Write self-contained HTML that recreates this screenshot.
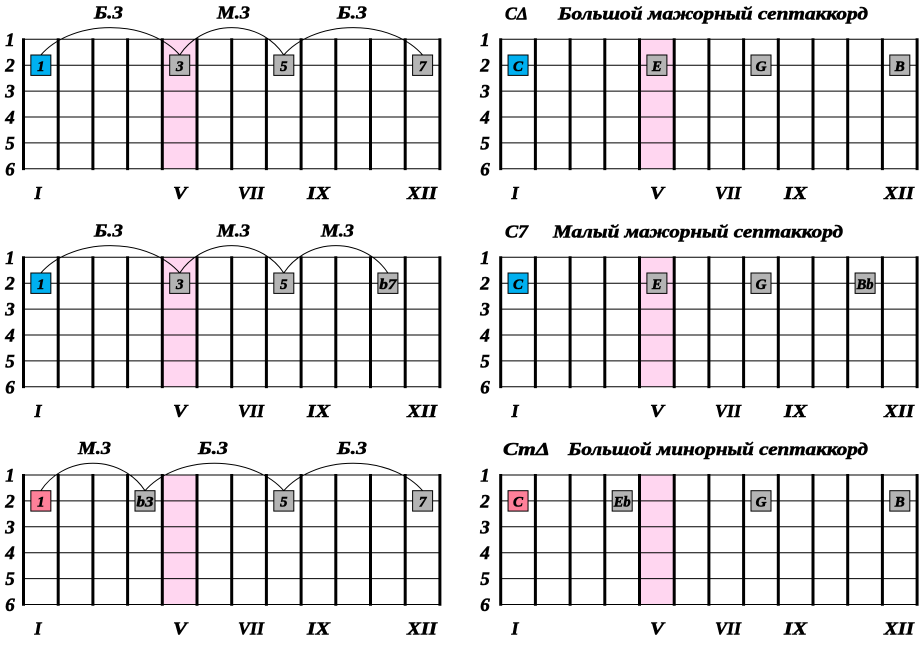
<!DOCTYPE html>
<html>
<head>
<meta charset="utf-8">
<style>
  html,body{margin:0;padding:0;background:#fff;}
  svg{display:block;}
  text{font-family:"Liberation Serif","Times New Roman","DejaVu Serif",serif;font-weight:bold;font-style:italic;fill:#000;stroke:#000;stroke-width:0.55px;}
  .rl{font-size:19px;text-anchor:middle;}
  .rn{font-size:18px;text-anchor:middle;}
  .al{font-size:18px;text-anchor:middle;}
  .tt{font-size:18px;}
  .bt{font-size:15px;text-anchor:middle;stroke-width:0.35px;}
  .arc{fill:none;stroke:#000;stroke-width:1;}
  .bx{stroke:#000;stroke-width:1;}
  .bl{fill:#00B0F0;}
  .gr{fill:#B4B4B4;}
  .pk{fill:#FF8099;}
</style>
</head>
<body>
<svg width="919" height="647" viewBox="0 0 919 647" xmlns="http://www.w3.org/2000/svg">
  <defs>
    <g id="grid">
      <rect x="162.3" y="0" width="34.7" height="129.5" fill="#FFD6F0"/>
      <g stroke="#000" stroke-width="1">
        <line x1="23.5" y1="0" x2="439.9" y2="0"/>
        <line x1="23.5" y1="25.9" x2="439.9" y2="25.9"/>
        <line x1="23.5" y1="51.8" x2="439.9" y2="51.8"/>
        <line x1="23.5" y1="77.7" x2="439.9" y2="77.7"/>
        <line x1="23.5" y1="103.6" x2="439.9" y2="103.6"/>
        <line x1="23.5" y1="129.5" x2="439.9" y2="129.5"/>
      </g>
      <g stroke="#000" stroke-width="3">
        <line x1="23.5" y1="-1" x2="23.5" y2="130.8"/>
        <line x1="58.2" y1="-1" x2="58.2" y2="130.8"/>
        <line x1="92.9" y1="-1" x2="92.9" y2="130.8"/>
        <line x1="127.6" y1="-1" x2="127.6" y2="130.8"/>
        <line x1="162.3" y1="-1" x2="162.3" y2="130.8"/>
        <line x1="197.0" y1="-1" x2="197.0" y2="130.8"/>
        <line x1="231.7" y1="-1" x2="231.7" y2="130.8"/>
        <line x1="266.4" y1="-1" x2="266.4" y2="130.8"/>
        <line x1="301.1" y1="-1" x2="301.1" y2="130.8"/>
        <line x1="335.8" y1="-1" x2="335.8" y2="130.8"/>
        <line x1="370.5" y1="-1" x2="370.5" y2="130.8"/>
        <line x1="405.2" y1="-1" x2="405.2" y2="130.8"/>
        <line x1="439.9" y1="-1" x2="439.9" y2="130.8"/>
      </g>
    </g>
  </defs>

  <!-- Grids -->
  <use href="#grid" x="0" y="39.3"/>
  <use href="#grid" x="477.2" y="39.3"/>
  <use href="#grid" x="0" y="257.3"/>
  <use href="#grid" x="477.2" y="257.3"/>
  <use href="#grid" x="0" y="475"/>
  <use href="#grid" x="477.2" y="475"/>

  <!-- Row labels -->
  <g class="rl">
    <text x="10" y="45.8">1</text><text x="10" y="71.7">2</text><text x="10" y="97.6">3</text>
    <text x="10" y="123.5">4</text><text x="10" y="149.4">5</text><text x="10" y="175.3">6</text>
    <text x="485" y="45.8">1</text><text x="485" y="71.7">2</text><text x="485" y="97.6">3</text>
    <text x="485" y="123.5">4</text><text x="485" y="149.4">5</text><text x="485" y="175.3">6</text>

    <text x="10" y="263.8">1</text><text x="10" y="289.7">2</text><text x="10" y="315.6">3</text>
    <text x="10" y="341.5">4</text><text x="10" y="367.4">5</text><text x="10" y="393.3">6</text>
    <text x="485" y="263.8">1</text><text x="485" y="289.7">2</text><text x="485" y="315.6">3</text>
    <text x="485" y="341.5">4</text><text x="485" y="367.4">5</text><text x="485" y="393.3">6</text>

    <text x="10" y="481.5">1</text><text x="10" y="507.4">2</text><text x="10" y="533.3">3</text>
    <text x="10" y="559.2">4</text><text x="10" y="585.1">5</text><text x="10" y="611">6</text>
    <text x="485" y="481.5">1</text><text x="485" y="507.4">2</text><text x="485" y="533.3">3</text>
    <text x="485" y="559.2">4</text><text x="485" y="585.1">5</text><text x="485" y="611">6</text>
  </g>

  <!-- Roman numerals -->
  <g class="rn">
    <text x="38" y="198.8">I</text>
    <text x="180" y="198.8" textLength="14" lengthAdjust="spacingAndGlyphs">V</text>
    <text x="251" y="198.8" textLength="26" lengthAdjust="spacingAndGlyphs">VII</text>
    <text x="318.5" y="198.8" textLength="23" lengthAdjust="spacingAndGlyphs">IX</text>
    <text x="422" y="198.8" textLength="30" lengthAdjust="spacingAndGlyphs">XII</text>
    <text x="515" y="198.8">I</text>
    <text x="657" y="198.8" textLength="14" lengthAdjust="spacingAndGlyphs">V</text>
    <text x="728" y="198.8" textLength="26" lengthAdjust="spacingAndGlyphs">VII</text>
    <text x="795.5" y="198.8" textLength="23" lengthAdjust="spacingAndGlyphs">IX</text>
    <text x="899" y="198.8" textLength="30" lengthAdjust="spacingAndGlyphs">XII</text>

    <text x="38" y="416.8">I</text>
    <text x="180" y="416.8" textLength="14" lengthAdjust="spacingAndGlyphs">V</text>
    <text x="251" y="416.8" textLength="26" lengthAdjust="spacingAndGlyphs">VII</text>
    <text x="318.5" y="416.8" textLength="23" lengthAdjust="spacingAndGlyphs">IX</text>
    <text x="422" y="416.8" textLength="30" lengthAdjust="spacingAndGlyphs">XII</text>
    <text x="515" y="416.8">I</text>
    <text x="657" y="416.8" textLength="14" lengthAdjust="spacingAndGlyphs">V</text>
    <text x="728" y="416.8" textLength="26" lengthAdjust="spacingAndGlyphs">VII</text>
    <text x="795.5" y="416.8" textLength="23" lengthAdjust="spacingAndGlyphs">IX</text>
    <text x="899" y="416.8" textLength="30" lengthAdjust="spacingAndGlyphs">XII</text>

    <text x="38" y="634.5">I</text>
    <text x="180" y="634.5" textLength="14" lengthAdjust="spacingAndGlyphs">V</text>
    <text x="251" y="634.5" textLength="26" lengthAdjust="spacingAndGlyphs">VII</text>
    <text x="318.5" y="634.5" textLength="23" lengthAdjust="spacingAndGlyphs">IX</text>
    <text x="422" y="634.5" textLength="30" lengthAdjust="spacingAndGlyphs">XII</text>
    <text x="515" y="634.5">I</text>
    <text x="657" y="634.5" textLength="14" lengthAdjust="spacingAndGlyphs">V</text>
    <text x="728" y="634.5" textLength="26" lengthAdjust="spacingAndGlyphs">VII</text>
    <text x="795.5" y="634.5" textLength="23" lengthAdjust="spacingAndGlyphs">IX</text>
    <text x="899" y="634.5" textLength="30" lengthAdjust="spacingAndGlyphs">XII</text>
  </g>

  <!-- Arc labels -->
  <g class="al">
    <text x="108.5" y="18.3" textLength="29" lengthAdjust="spacingAndGlyphs">Б.3</text>
    <text x="233.5" y="18.3" textLength="33" lengthAdjust="spacingAndGlyphs">М.3</text>
    <text x="352" y="18.3" textLength="30" lengthAdjust="spacingAndGlyphs">Б.3</text>

    <text x="108.5" y="236.3" textLength="29" lengthAdjust="spacingAndGlyphs">Б.3</text>
    <text x="233.5" y="236.3" textLength="33" lengthAdjust="spacingAndGlyphs">М.3</text>
    <text x="337.5" y="236.3" textLength="33" lengthAdjust="spacingAndGlyphs">М.3</text>

    <text x="94.5" y="454" textLength="33" lengthAdjust="spacingAndGlyphs">М.3</text>
    <text x="213" y="454" textLength="30" lengthAdjust="spacingAndGlyphs">Б.3</text>
    <text x="352" y="454" textLength="30" lengthAdjust="spacingAndGlyphs">Б.3</text>
  </g>

  <!-- Titles -->
  <g class="tt">
    <text x="505" y="19.3" textLength="23" lengthAdjust="spacingAndGlyphs">CΔ</text>
    <text x="558" y="19.3" textLength="310" lengthAdjust="spacingAndGlyphs">Большой мажорный септаккорд</text>
    <text x="505" y="237.3" textLength="23" lengthAdjust="spacingAndGlyphs">C7</text>
    <text x="553" y="237.3" textLength="290" lengthAdjust="spacingAndGlyphs">Малый мажорный септаккорд</text>
    <text x="503" y="455" textLength="47" lengthAdjust="spacingAndGlyphs">CmΔ</text>
    <text x="568" y="455" textLength="300" lengthAdjust="spacingAndGlyphs">Большой минорный септаккорд</text>
  </g>

  <!-- Arcs -->
  <path class="arc" d="M40.85 55 A81.2 57 0 0 1 179.7 55"/>
  <path class="arc" d="M179.7 55 A60.9 57 0 0 1 283.8 55"/>
  <path class="arc" d="M283.8 55 A81.2 57 0 0 1 422.6 55"/>

  <path class="arc" d="M40.85 273 A81.2 57 0 0 1 179.7 273"/>
  <path class="arc" d="M179.7 273 A60.9 57 0 0 1 283.8 273"/>
  <path class="arc" d="M283.8 273 A60.9 57 0 0 1 387.9 273"/>

  <path class="arc" d="M40.85 490.7 A60.9 57 0 0 1 145 490.7"/>
  <path class="arc" d="M145 490.7 A81.2 57 0 0 1 283.8 490.7"/>
  <path class="arc" d="M283.8 490.7 A81.2 57 0 0 1 422.6 490.7"/>

  <!-- Panel 1 boxes -->
  <rect class="bx bl" x="30.85" y="55" width="20" height="20.4"/>
  <rect class="bx gr" x="169.7" y="55" width="20" height="20.4"/>
  <rect class="bx gr" x="273.8" y="55" width="20" height="20.4"/>
  <rect class="bx gr" x="412.6" y="55" width="20" height="20.4"/>
  <rect class="bx bl" x="508.05" y="55" width="20" height="20.4"/>
  <rect class="bx gr" x="646.9" y="55" width="20" height="20.4"/>
  <rect class="bx gr" x="751" y="55" width="20" height="20.4"/>
  <rect class="bx gr" x="889.8" y="55" width="20" height="20.4"/>

  <!-- Panel 2 boxes -->
  <rect class="bx bl" x="30.85" y="273" width="20" height="20.4"/>
  <rect class="bx gr" x="169.7" y="273" width="20" height="20.4"/>
  <rect class="bx gr" x="273.8" y="273" width="20" height="20.4"/>
  <rect class="bx gr" x="377.9" y="273" width="20" height="20.4"/>
  <rect class="bx bl" x="508.05" y="273" width="20" height="20.4"/>
  <rect class="bx gr" x="646.9" y="273" width="20" height="20.4"/>
  <rect class="bx gr" x="751" y="273" width="20" height="20.4"/>
  <rect class="bx gr" x="855.1" y="273" width="20" height="20.4"/>

  <!-- Panel 3 boxes -->
  <rect class="bx pk" x="30.85" y="490.7" width="20" height="20.4"/>
  <rect class="bx gr" x="135" y="490.7" width="20" height="20.4"/>
  <rect class="bx gr" x="273.8" y="490.7" width="20" height="20.4"/>
  <rect class="bx gr" x="412.6" y="490.7" width="20" height="20.4"/>
  <rect class="bx pk" x="508.05" y="490.7" width="20" height="20.4"/>
  <rect class="bx gr" x="612.2" y="490.7" width="20" height="20.4"/>
  <rect class="bx gr" x="751" y="490.7" width="20" height="20.4"/>
  <rect class="bx gr" x="889.8" y="490.7" width="20" height="20.4"/>

  <!-- Box texts -->
  <g class="bt">
    <text x="40.85" y="70.8">1</text>
    <text x="179.7" y="70.8">3</text>
    <text x="283.8" y="70.8">5</text>
    <text x="422.6" y="70.8">7</text>
    <text x="518.05" y="70.8">C</text>
    <text x="656.9" y="70.8">E</text>
    <text x="761" y="70.8">G</text>
    <text x="899.8" y="70.8">B</text>

    <text x="40.85" y="288.8">1</text>
    <text x="179.7" y="288.8">3</text>
    <text x="283.8" y="288.8">5</text>
    <text x="387.9" y="288.8" textLength="17" lengthAdjust="spacingAndGlyphs">b7</text>
    <text x="518.05" y="288.8">C</text>
    <text x="656.9" y="288.8">E</text>
    <text x="761" y="288.8">G</text>
    <text x="865.1" y="288.8" textLength="17" lengthAdjust="spacingAndGlyphs">Bb</text>

    <text x="40.85" y="506.5">1</text>
    <text x="145" y="506.5" textLength="17" lengthAdjust="spacingAndGlyphs">b3</text>
    <text x="283.8" y="506.5">5</text>
    <text x="422.6" y="506.5">7</text>
    <text x="518.05" y="506.5">C</text>
    <text x="622.2" y="506.5" textLength="17" lengthAdjust="spacingAndGlyphs">Eb</text>
    <text x="761" y="506.5">G</text>
    <text x="899.8" y="506.5">B</text>
  </g>
</svg>
</body>
</html>
